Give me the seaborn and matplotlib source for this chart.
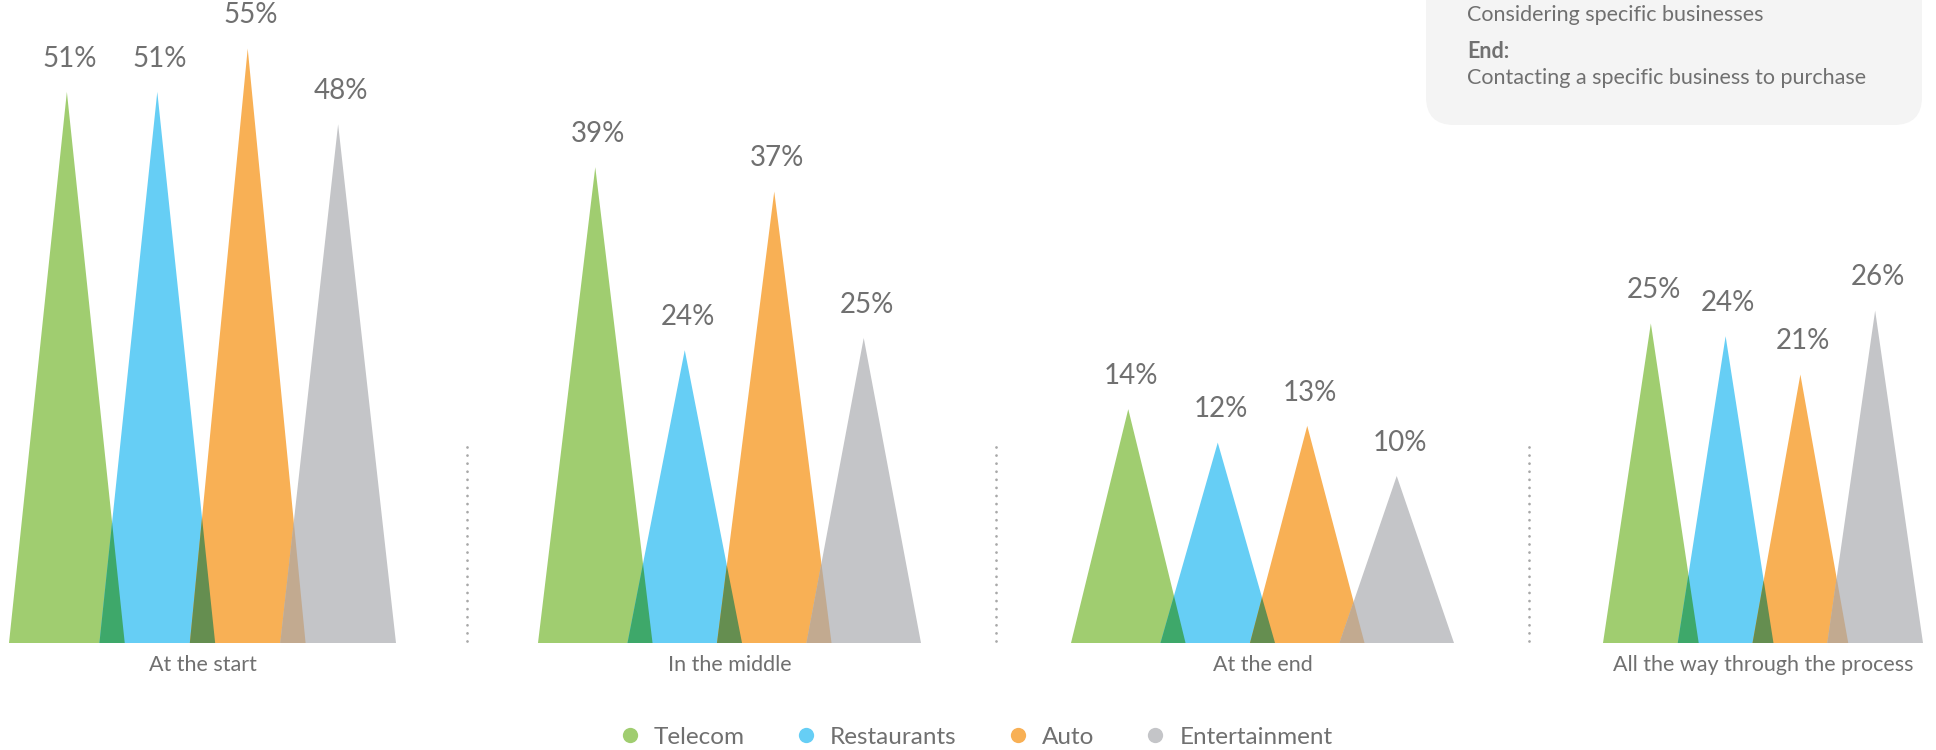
import numpy as np
import matplotlib
matplotlib.use("Agg")
import matplotlib.pyplot as plt
from matplotlib.lines import Line2D
from matplotlib.patches import FancyBboxPatch
import seaborn as sns

# ---- data -------------------------------------------------------------
stages = ["At the start", "In the middle", "At the end",
          "All the way through the process"]
industries = ["Telecom", "Restaurants", "Auto", "Entertainment"]

telecom = [51, 39, 14, 25]
restaurants = [51, 24, 12, 24]
auto = [55, 37, 13, 21]
entertainment = [48, 25, 10, 26]

note_lines = ["Considering specific businesses", "End:",
              "Contacting a specific business to purchase"]

# ---- style ------------------------------------------------------------
sns.set_theme(style="white")
plt.rcParams["font.family"] = ["Lato", "DejaVu Sans"]

palette = sns.color_palette(["#a0cd70", "#66cef5", "#f8b055", "#c4c5c8"])
overlap_colors = ["#3ea86a", "#658e50", "#c2aa90"]
text_color = "#707070"

W, H, DPI = 1936, 750, 100
fig = plt.figure(figsize=(W / DPI, H / DPI), dpi=DPI)
fig.patch.set_facecolor("white")

# panel layout in pixels: (left, right) of each group's triangle row,
# and the vertical scale (axis top, in %) used by each group
baseline_px = 643
group_extent = [(9, 396), (538, 921), (1071, 1454), (1603, 1923)]
group_ytop = [59.5, 52.7, 38.5, 50.3]
hw = 0.64  # half base width of a triangle, in slot units

series = np.array([telecom, restaurants, auto, entertainment])  # (industry, stage)


def crossing(xa, ha, xb, hb):
    """Point where the right edge of triangle a meets the left edge of b."""
    x = (ha * (xa + hw) + hb * (xb - hw)) / (ha + hb)
    y = ha * (xa + hw - x) / hw
    return x, y


for g, stage in enumerate(stages):
    left, right = group_extent[g]
    ax = fig.add_axes([left / W, 1 - baseline_px / H,
                       (right - left) / W, baseline_px / H])
    ax.set_xlim(-hw, 3 + hw)
    ax.set_ylim(0, group_ytop[g])
    ax.axis("off")

    vals = series[:, g]
    for i, v in enumerate(vals):
        ax.fill([i - hw, i, i + hw], [0, v, 0], color=palette[i],
                lw=0, zorder=2)
        ax.annotate(f"{v}%", (i, v), xytext=(2, 24), textcoords="offset points",
                    ha="center", va="center", fontsize=20, color=text_color,
                    annotation_clip=False)
    # darker blended wedge where neighbouring triangles overlap
    for i in range(3):
        x, y = crossing(i, vals[i], i + 1, vals[i + 1])
        ax.fill([i + 1 - hw, x, i + hw], [0, y, 0], color=overlap_colors[i],
                lw=0, zorder=3)

    fig.text((left + right) / 2 / W, 1 - 665 / H, stage, ha="center",
             va="center", fontsize=15.5, color=text_color)

# dotted separators between the groups
for g in range(3):
    xs = (group_extent[g][1] + group_extent[g + 1][0]) / 2 / W
    fig.add_artist(Line2D([xs, xs], [1 - 641 / H, 1 - 440 / H],
                          transform=fig.transFigure, color="#a8a8a8",
                          lw=2.0, linestyle=(0, (0.01, 2.9)),
                          dash_capstyle="round"))

# note box in the top right corner
box = FancyBboxPatch((1426 / DPI, (H - 125) / DPI), (1922 - 1426) / DPI, 1.6,
                     boxstyle="round,pad=0,rounding_size=0.28",
                     transform=fig.dpi_scale_trans, facecolor="#f4f4f4",
                     edgecolor="none", zorder=0)
fig.add_artist(box)
for txt, ypx, weight in zip(note_lines, [15, 51, 78], ["normal", "bold", "normal"]):
    fig.text(1467 / W, 1 - ypx / H, txt, ha="left", va="center", fontsize=15.5,
             color=text_color, fontweight=weight)

# legend
handles = [Line2D([], [], marker="o", linestyle="none", markersize=11,
                  markerfacecolor=palette[i], markeredgewidth=0)
           for i in range(4)]
fig.legend(handles, industries, loc="center", ncol=4,
           bbox_to_anchor=(975 / W, 1 - 737 / H), frameon=False,
           prop={"size": 17.5}, labelcolor=text_color,
           handletextpad=0.5, columnspacing=2.0, handlelength=1.0)

fig.savefig("out.png", dpi=DPI, facecolor="white")
